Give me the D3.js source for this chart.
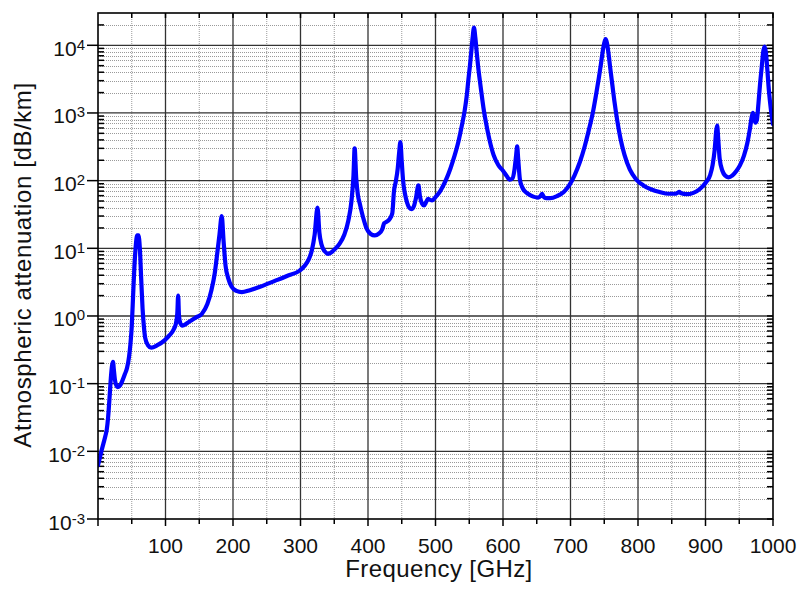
<!DOCTYPE html>
<html>
<head>
<meta charset="utf-8">
<script src="https://cdn.jsdelivr.net/npm/d3@7"></script>
<style>
  html, body { margin: 0; padding: 0; background: #fff; }
  svg { display: block; font-family: "Liberation Sans", Arial, Helvetica, sans-serif; }
</style>
</head>
<body>
<svg id="chart" width="798" height="589"></svg>
<script>
// ---- Data ----
const freqGHz = [
  0, 2, 5, 8, 11, 13, 15, 17, 19, 21, 22.2, 23.5, 25, 27, 29, 32, 36, 40, 43, 46, 48, 50,
  52, 54, 56, 58, 60, 62, 64, 66, 68, 70, 74, 79, 88, 99, 106, 112, 115.5, 117.5, 118.75,
  120, 122, 125, 135, 145, 154, 162, 168, 173, 177, 180, 183.3, 186, 189, 193, 198, 205,
  213, 225, 240, 262, 280, 299, 306, 312, 317, 321, 325.2, 328, 331, 336, 341, 350, 358,
  365, 371, 375.5, 378.5, 380.2, 382.5, 385, 388, 393, 398, 404, 410, 416, 421, 424, 427,
  432, 436, 438.5, 441, 444, 446, 448, 450, 452, 455, 458, 461, 465, 468, 471, 474.7, 477,
  480, 483, 486, 489, 492, 495, 500, 507, 515, 522, 528, 534, 539, 543, 546, 549, 551, 553,
  555, 557, 559, 561, 563, 565, 568, 571, 575, 580, 586, 593, 600, 606, 610, 614, 617,
  619.5, 621, 622.5, 625, 628, 632, 638, 645, 652, 656, 658, 660, 664, 670, 680, 690, 698,
  706, 714, 721, 727, 733, 738, 742, 745, 748, 750, 752, 754, 756, 759, 762, 765, 769, 774,
  780, 788, 797, 808, 820, 832, 845, 855, 858.5, 861, 864, 872, 882, 890, 896, 902, 907,
  910.5, 913.5, 916, 917.3, 918.8, 921, 925, 929, 934, 940, 946, 951, 957, 962, 966, 968.5,
  970.3, 972, 974, 976, 978.5, 981, 983.5, 985.5, 987.5, 989.5, 991.5, 994, 997, 1000
];
const attenuation = [
  0.0062, 0.0075, 0.010, 0.013, 0.017, 0.021, 0.032, 0.06, 0.12, 0.19, 0.21, 0.16, 0.115, 0.095, 0.089, 0.092, 0.11, 0.14, 0.17, 0.25, 0.38, 0.7,
  2.0, 5.5, 11, 15.5, 15.5, 10, 3.5, 1.3, 0.7, 0.47, 0.37, 0.34, 0.37, 0.44, 0.52, 0.63, 0.78, 1.1, 2.0,
  1.0, 0.78, 0.72, 0.82, 0.95, 1.08, 1.5, 2.4, 4.3, 9, 16, 30, 13, 5.5, 3.6, 2.7, 2.35,
  2.25, 2.4, 2.7, 3.3, 3.9, 4.7, 5.5, 6.8, 9.5, 16, 40, 17, 11.5, 9, 8.3, 9.5, 11.7,
  16, 26, 50, 120, 300, 110, 62, 45, 28, 19.5, 16.3, 15.5, 16.5, 19, 23.5, 24.5,
  27, 33, 70, 95, 150, 250, 370, 190, 100, 62, 47, 40, 38, 42, 55, 85, 58,
  46, 43, 48, 54, 52, 51, 57, 70, 100, 150, 230, 380, 650, 1050, 1700, 3300, 5000, 8000,
  13000, 18300, 13000, 8000, 5000, 3400, 2000, 1200, 700, 400, 240, 170, 140, 115, 103, 108, 145,
  240, 320, 210, 105, 82, 70, 63, 58, 56, 60, 64, 58, 55, 55, 59, 68, 85,
  120, 190, 320, 550, 1000, 1900, 3300, 5200, 8500, 10800, 12300, 10800, 8000, 4500, 2600, 1500, 800, 420,
  240, 145, 105, 85, 74, 68, 64, 64, 66, 68, 65, 63, 66, 73, 83, 98, 122,
  170, 280, 560, 650, 420, 210, 140, 119, 112, 120, 140, 168, 235, 360, 600, 880,
  1000, 820, 720, 780, 1400, 2800, 5000, 8000, 9600, 7800, 4500, 2100, 1100, 680
];
const xTickValues = [100, 200, 300, 400, 500, 600, 700, 800, 900, 1000];
const xTickLabels = ["100", "200", "300", "400", "500", "600", "700", "800", "900", "1000"];
const yTickExponents = [-3, -2, -1, 0, 1, 2, 3, 4];
const xTitle = "Frequency [GHz]";
const yTitle = "Atmospheric attenuation [dB/km]";

(function () {
// ---- Layout ----
const svg = d3.select("#chart");
const pLeft = 98, pTop = 13, pRight = 773, pBottom = 519;

const x = d3.scaleLinear().domain([0, 1000]).range([pLeft, pRight]);
const y = d3.scaleLog().domain([1e-3, 3e4]).range([pBottom, pTop]);

// Minor grid values
const xMinor = d3.range(50, 1000, 100);
const yMinor = [];
for (let e = -3; e <= 4; e++) {
  for (let k = 2; k <= 9; k++) {
    const v = k * Math.pow(10, e);
    if (v < 3e4) yMinor.push(v);
  }
}
const yMajor = yTickExponents.map(e => Math.pow(10, e));

const grid = svg.append("g");
grid.selectAll(".xminor").data(xMinor).enter().append("line")
  .attr("x1", d => x(d)).attr("x2", d => x(d)).attr("y1", pTop).attr("y2", pBottom)
  .attr("stroke", "#9a9a9a").attr("stroke-width", 1).attr("stroke-dasharray", "1,1");
grid.selectAll(".yminor").data(yMinor).enter().append("line")
  .attr("x1", pLeft).attr("x2", pRight)
  .attr("y1", d => Math.round(y(d)) + 0.5).attr("y2", d => Math.round(y(d)) + 0.5)
  .attr("stroke", "#9a9a9a").attr("stroke-width", 1).attr("stroke-dasharray", "1,1");
grid.selectAll(".xmajor").data(xTickValues.slice(0, -1)).enter().append("line")
  .attr("x1", d => x(d)).attr("x2", d => x(d)).attr("y1", pTop).attr("y2", pBottom)
  .attr("stroke", "#333").attr("stroke-width", 1.3);
grid.selectAll(".ymajor").data(yMajor.slice(1)).enter().append("line")
  .attr("x1", pLeft).attr("x2", pRight).attr("y1", d => y(d)).attr("y2", d => y(d))
  .attr("stroke", "#333").attr("stroke-width", 1.3);

// Ticks
const ticks = svg.append("g").attr("stroke", "#000").attr("stroke-width", 1.5);
ticks.selectAll(".bmaj").data([0].concat(xTickValues)).enter().append("line")
  .attr("x1", d => x(d)).attr("x2", d => x(d)).attr("y1", pBottom).attr("y2", pBottom + 7);
ticks.selectAll(".bmin").data(xMinor).enter().append("line")
  .attr("x1", d => x(d)).attr("x2", d => x(d)).attr("y1", pBottom).attr("y2", pBottom + 5);
ticks.selectAll(".tmaj").data(xTickValues.concat(xMinor)).enter().append("line")
  .attr("x1", d => x(d)).attr("x2", d => x(d)).attr("y1", pTop).attr("y2", pTop + 5);
ticks.selectAll(".lmaj").data(yMajor).enter().append("line")
  .attr("x1", pLeft - 11).attr("x2", pLeft).attr("y1", d => y(d)).attr("y2", d => y(d));
ticks.selectAll(".lmin").data(yMinor).enter().append("line")
  .attr("x1", pLeft).attr("x2", pLeft + 6).attr("y1", d => y(d)).attr("y2", d => y(d));
ticks.selectAll(".rmin").data(yMinor.concat(yMajor)).enter().append("line")
  .attr("x1", pRight - 6).attr("x2", pRight).attr("y1", d => y(d)).attr("y2", d => y(d));

// Data line
svg.append("clipPath").attr("id", "clip").append("rect")
  .attr("x", pLeft).attr("y", pTop).attr("width", pRight - pLeft).attr("height", pBottom - pTop);
const pts = freqGHz.map((f, i) => [f, attenuation[i]]);
const line = d3.line().x(d => x(d[0])).y(d => y(d[1])).curve(d3.curveMonotoneX);
svg.append("path").datum(pts)
  .attr("clip-path", "url(#clip)")
  .attr("d", line)
  .attr("fill", "none").attr("stroke", "#0000ff").attr("stroke-width", 4.2)
  .attr("stroke-linejoin", "round").attr("stroke-linecap", "round");

// Frame
svg.append("rect").attr("x", pLeft).attr("y", pTop).attr("width", pRight - pLeft).attr("height", pBottom - pTop)
  .attr("fill", "none").attr("stroke", "#000").attr("stroke-width", 1.6);

// X tick labels
svg.append("g").selectAll("text").data(xTickValues).enter().append("text")
  .attr("x", d => x(d)).attr("y", 553)
  .attr("text-anchor", "middle").attr("font-size", 21).attr("fill", "#111")
  .text((d, i) => xTickLabels[i]);

// Y tick labels (10^n)
const yl = svg.append("g").selectAll("text").data(yTickExponents).enter().append("text")
  .attr("x", 85).attr("y", d => y(Math.pow(10, d)) + 10.5)
  .attr("text-anchor", "end").attr("font-size", 21).attr("fill", "#111");
yl.append("tspan").text("10");
yl.append("tspan").attr("font-size", 15).attr("dy", -6).text(d => String(d));

// Axis titles
svg.append("text").attr("x", 439).attr("y", 577).attr("text-anchor", "middle")
  .attr("font-size", 24).attr("letter-spacing", 0.4).attr("fill", "#111").text(xTitle);
svg.append("text").attr("transform", "translate(31,265) rotate(-90)").attr("text-anchor", "middle")
  .attr("font-size", 24).attr("letter-spacing", 0.6).attr("fill", "#111").text(yTitle);
})();
</script>
</body>
</html>
